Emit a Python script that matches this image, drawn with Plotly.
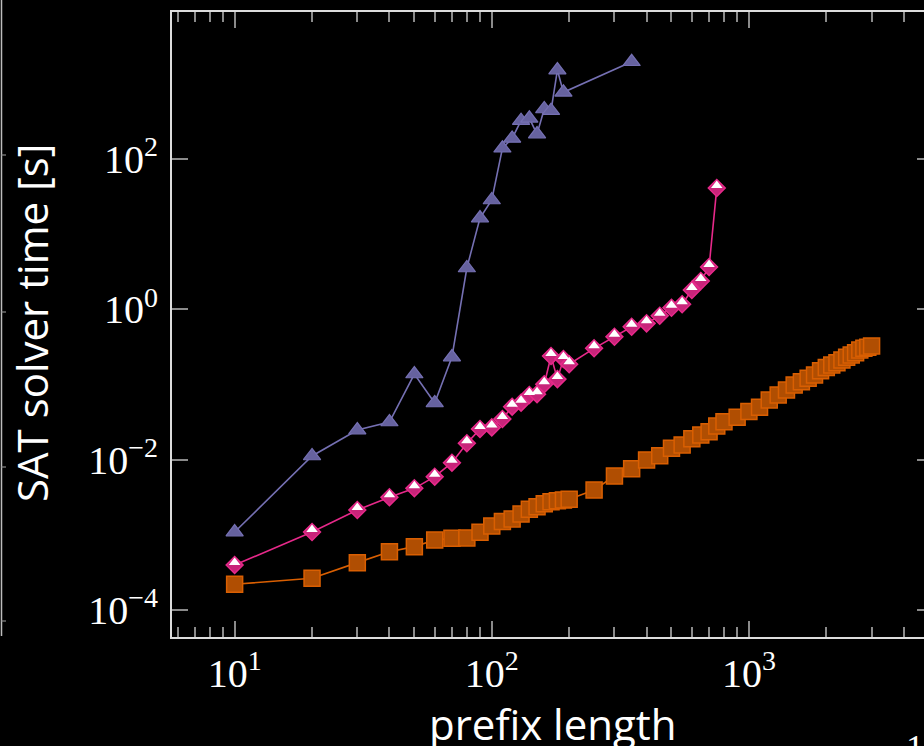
import plotly.graph_objects as go

# ---------------- data ----------------
x_purple = [10, 20, 30, 40, 50, 60, 70, 80, 90, 100, 110, 120, 130, 140, 150,
            160, 170, 180, 190, 350]
y_purple = [1.09e-3, 0.0112, 0.0248, 0.0317, 0.138, 0.0568, 0.232, 3.55, 16.4,
            28.5, 139, 188, 324, 348, 215, 463, 440, 1527, 771, 1968]

x_pink = [10, 20, 30, 40, 50, 60, 70, 80, 90, 100, 110, 120, 130, 140, 150,
          160, 170, 180, 190, 200, 250, 300, 350, 400, 450, 500, 550, 600, 650,
          700, 750]
y_pink = [3.97e-4, 1.09e-3, 2.14e-3, 3.16e-3, 4.16e-3, 5.94e-3, 9.12e-3, 0.0165,
          0.0256, 0.0269, 0.0348, 0.0507, 0.0573, 0.0725, 0.0745, 0.1007, 0.239,
          0.118, 0.218, 0.186, 0.303, 0.432, 0.587, 0.651, 0.822, 1.05, 1.17,
          1.81, 2.38, 3.66, 41.1]

x_orange = [10, 20, 30, 40, 50, 60, 70, 80, 90, 100, 110, 120, 130, 140, 150,
            160, 170, 180, 190, 200, 250, 300, 350, 400, 450, 500, 550, 600,
            650, 700, 750, 800, 900, 1000, 1100, 1200, 1300, 1400, 1500, 1600,
            1700, 1800, 1900, 2000, 2100, 2200, 2300, 2400, 2500, 2600, 2700,
            2800, 2900, 3000]
y_orange = [2.2e-4, 2.64e-4, 4.27e-4, 5.97e-4, 6.97e-4, 8.53e-4, 8.99e-4, 9.1e-4,
            1.08e-3, 1.31e-3, 1.50e-3, 1.63e-3, 1.89e-3, 2.19e-3, 2.37e-3, 2.6e-3,
            2.76e-3, 2.84e-3, 2.9e-3, 2.97e-3, 3.95e-3, 6.07e-3, 7.55e-3, 9.9e-3,
            0.0113, 0.0142, 0.0157, 0.019, 0.0213, 0.0236, 0.028, 0.032, 0.0366,
            0.0436, 0.0498, 0.0622, 0.0725, 0.0845, 0.0985, 0.109, 0.121, 0.134,
            0.153, 0.169, 0.182, 0.195, 0.212, 0.230, 0.247, 0.265, 0.288, 0.303,
            0.313, 0.325]

x_tickvals = [10, 100, 1000]
x_ticktext = ["10<sup>1</sup>", "10<sup>2</sup>", "10<sup>3</sup>"]
y_tickvals = [1e-4, 1e-2, 1, 100]
y_ticktext = ["10<sup>\u22124</sup>", "10<sup>\u22122</sup>", "10<sup>0</sup>", "10<sup>2</sup>"]
x_minor = [m * 10 ** e for e in range(0, 4) for m in range(2, 10)]

x_title = "prefix length"
y_title = "SAT solver time [s]"

# ---------------- style ----------------
PURPLE, PURPLE_FILL = "#7570b3", "#66629f"
PINK, PINK_FILL = "#e7298a", "#c8247a"
ORANGE, ORANGE_FILL = "#d95f02", "#b04e02"
FRAME = "#dcdcdc"
TICK = "#8a8a8a"
TICKFONT = dict(family="Liberation Serif, DejaVu Serif, serif", size=40,
                color="white")

W, H = 924, 746
L, R, T, B = 172, 0, 12, 109
PW, PH = W - L - R, H - T - B

fig = go.Figure()

fig.add_trace(go.Scatter(
    x=x_orange, y=y_orange, mode="lines+markers",
    line=dict(color=ORANGE, width=1.6),
    marker=dict(symbol="square", size=16, color=ORANGE_FILL,
                line=dict(color=ORANGE, width=1.5)),
    showlegend=False))

fig.add_trace(go.Scatter(
    x=x_pink, y=y_pink, mode="lines+markers",
    line=dict(color=PINK, width=1.6),
    marker=dict(symbol="diamond", size=13, color=PINK_FILL,
                line=dict(color=PINK, width=1.5)),
    showlegend=False))

# white upper half of the half-filled diamonds
fig.add_trace(go.Scatter(
    x=x_pink, y=y_pink, mode="markers",
    marker=dict(symbol="triangle-down", angle=180, standoff=2.5, size=10,
                color="white", line=dict(width=0)),
    showlegend=False, hoverinfo="skip"))

fig.add_trace(go.Scatter(
    x=x_purple, y=y_purple, mode="lines+markers",
    line=dict(color=PURPLE, width=1.6),
    marker=dict(symbol="triangle-up", size=15, color=PURPLE_FILL,
                line=dict(color=PURPLE, width=1.2)),
    showlegend=False))

# invisible trace to activate the right-hand y axis (mirrored ticks only)
fig.add_trace(go.Scatter(x=[x_orange[0]], y=[y_orange[0]], yaxis="y2",
                         mode="markers", marker=dict(opacity=0),
                         showlegend=False, hoverinfo="skip"))

xr = [0.7564, 3.681]
yr = [-4.359, 3.956]

fig.update_layout(
    width=W, height=H,
    margin=dict(l=L, r=R, t=T, b=B, pad=0),
    paper_bgcolor="black", plot_bgcolor="black",
    xaxis=dict(type="log", range=xr, showgrid=False, zeroline=False,
               showline=True, linecolor=FRAME, linewidth=2, mirror="ticks",
               ticks="inside", ticklen=16, tickwidth=1.5, tickcolor=TICK,
               tickvals=x_tickvals, ticktext=x_ticktext,
               tickfont=TICKFONT, ticklabelstandoff=0,
               minor=dict(tickvals=x_minor, ticks="inside", ticklen=10,
                          tickwidth=1.5, tickcolor=TICK, showgrid=False)),
    yaxis=dict(type="log", range=yr, showgrid=False, zeroline=False,
               showline=True, linecolor=FRAME, linewidth=2, mirror=False,
               ticks="inside", ticklen=16, tickwidth=1.5, tickcolor=TICK,
               tickvals=y_tickvals, ticktext=y_ticktext,
               tickfont=TICKFONT, ticklabelstandoff=4),
    yaxis2=dict(type="log", range=yr, overlaying="y", side="right",
                showgrid=False, zeroline=False, showline=False,
                ticks="inside", ticklen=7, tickwidth=1.5, tickcolor=TICK,
                tickvals=y_tickvals, showticklabels=False),
    showlegend=False,
)

def px_x(p):
    return (p - L) / PW

def px_y(p):
    return (H - B - p) / PH

fig.add_annotation(text=x_title, xref="paper", yref="paper",
                   x=px_x(553), y=px_y(723), xanchor="center", yanchor="middle",
                   showarrow=False,
                   font=dict(family="Open Sans", size=42, color="white"))
fig.add_annotation(text=y_title, xref="paper", yref="paper",
                   x=px_x(31), y=px_y(323), xanchor="center", yanchor="middle",
                   textangle=-90, showarrow=False,
                   font=dict(family="Open Sans", size=42, color="white"))
# fragment of neighbouring figure label at bottom right
fig.add_annotation(text="1", xref="paper", yref="paper",
                   x=px_x(915), y=px_y(748), xanchor="center", yanchor="middle",
                   showarrow=False,
                   font=dict(family="Liberation Serif", size=36, color="white"))

# fragment of neighbouring frame on the left edge
fig.add_shape(type="line", xref="paper", yref="paper",
              x0=px_x(1.5), x1=px_x(1.5), y0=px_y(0), y1=px_y(636),
              line=dict(color="#bdbdbd", width=1.5))
for ty in [155, 312, 467, 621]:
    fig.add_shape(type="line", xref="paper", yref="paper",
                  x0=px_x(1.5), x1=px_x(6), y0=px_y(ty), y1=px_y(ty),
                  line=dict(color="#8a8a8a", width=1.2))

fig.write_html("out.html", config={"displayModeBar": False},
               post_script="document.body.style.margin='0';"
                           "document.body.style.overflow='hidden';"
                           "document.body.style.background='black';")
